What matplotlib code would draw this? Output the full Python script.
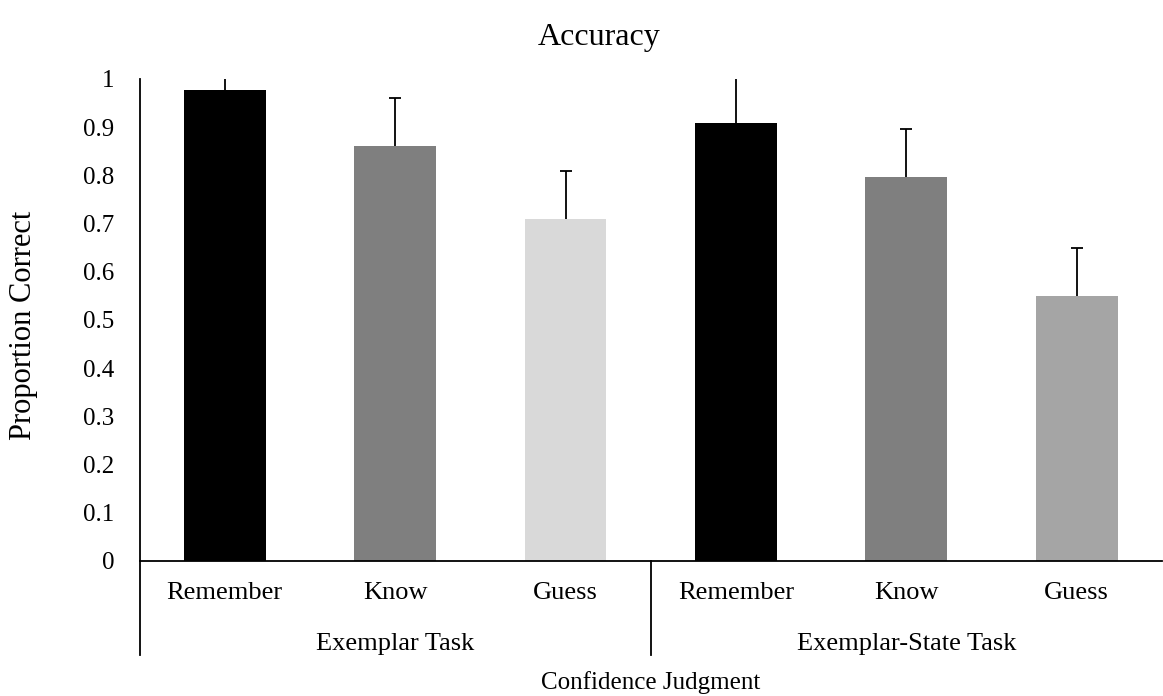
import matplotlib
matplotlib.use("Agg")
from matplotlib import pyplot as plt
import numpy as np

# accuracy per confidence judgment, two tasks
tasks = ["Exemplar Task", "Exemplar-State Task"]
judgments = ["Remember", "Know", "Guess"]
accuracy = [0.977, 0.861, 0.710, 0.909, 0.797, 0.550]
errors = [0.10, 0.10, 0.10, 0.10, 0.10, 0.10]
colors = ["#000000", "#7f7f7f", "#d9d9d9", "#000000", "#7f7f7f", "#a5a5a5"]

plt.rcParams["font.family"] = ["Liberation Serif", "DejaVu Serif"]

fig = plt.figure(figsize=(11.63, 6.96), dpi=100)
ax = fig.add_axes([0.120, 0.194, 0.879, 0.6925])

xs = np.arange(len(accuracy))
ax.bar(xs, accuracy, width=0.48, color=colors)
_, caps, _ = ax.errorbar(xs, accuracy, yerr=[np.zeros(len(errors)), errors], fmt="none",
                         ecolor="black", elinewidth=1.3, capsize=4.5, capthick=1.3)
# plus-direction error bars only: hide the caps sitting on the bar tops
caps[0].set_visible(False)

ax.set_xlim(-0.5, len(accuracy) - 0.5)
ax.set_ylim(0, 1)
ax.set_yticks(np.arange(0, 1.01, 0.1))
ax.set_yticklabels(["0", "0.1", "0.2", "0.3", "0.4", "0.5", "0.6", "0.7", "0.8", "0.9", "1"])
ax.tick_params(axis="y", length=0, labelsize=18, pad=18)
ax.set_xticks([])

for side in ["top", "right"]:
    ax.spines[side].set_visible(False)
ax.spines["left"].set_linewidth(1.3)
ax.spines["bottom"].set_linewidth(1.3)

# two-level category axis
trans = ax.get_xaxis_transform()
for x, label in zip(xs, judgments * 2):
    ax.text(x, -0.066, label, transform=trans, ha="center", va="center", fontsize=19)
for i, task in enumerate(tasks):
    ax.text(1 + 3 * i, -0.172, task, transform=trans, ha="center", va="center", fontsize=19)
for x in [-0.5, 2.5]:
    ax.plot([x, x], [0, -0.195], transform=trans, color="black", lw=1.3, clip_on=False)

ax.text(2.5, -0.253, "Confidence Judgment", transform=trans, ha="center", va="center", fontsize=18)
fig.text(0.02, 1 - 325 / 696, "Proportion Correct", rotation=90, ha="center", va="center", fontsize=22)
fig.text(0.515, 1 - 38 / 696, "Accuracy", ha="center", va="center", fontsize=23)

fig.savefig("out.png", dpi=100)
